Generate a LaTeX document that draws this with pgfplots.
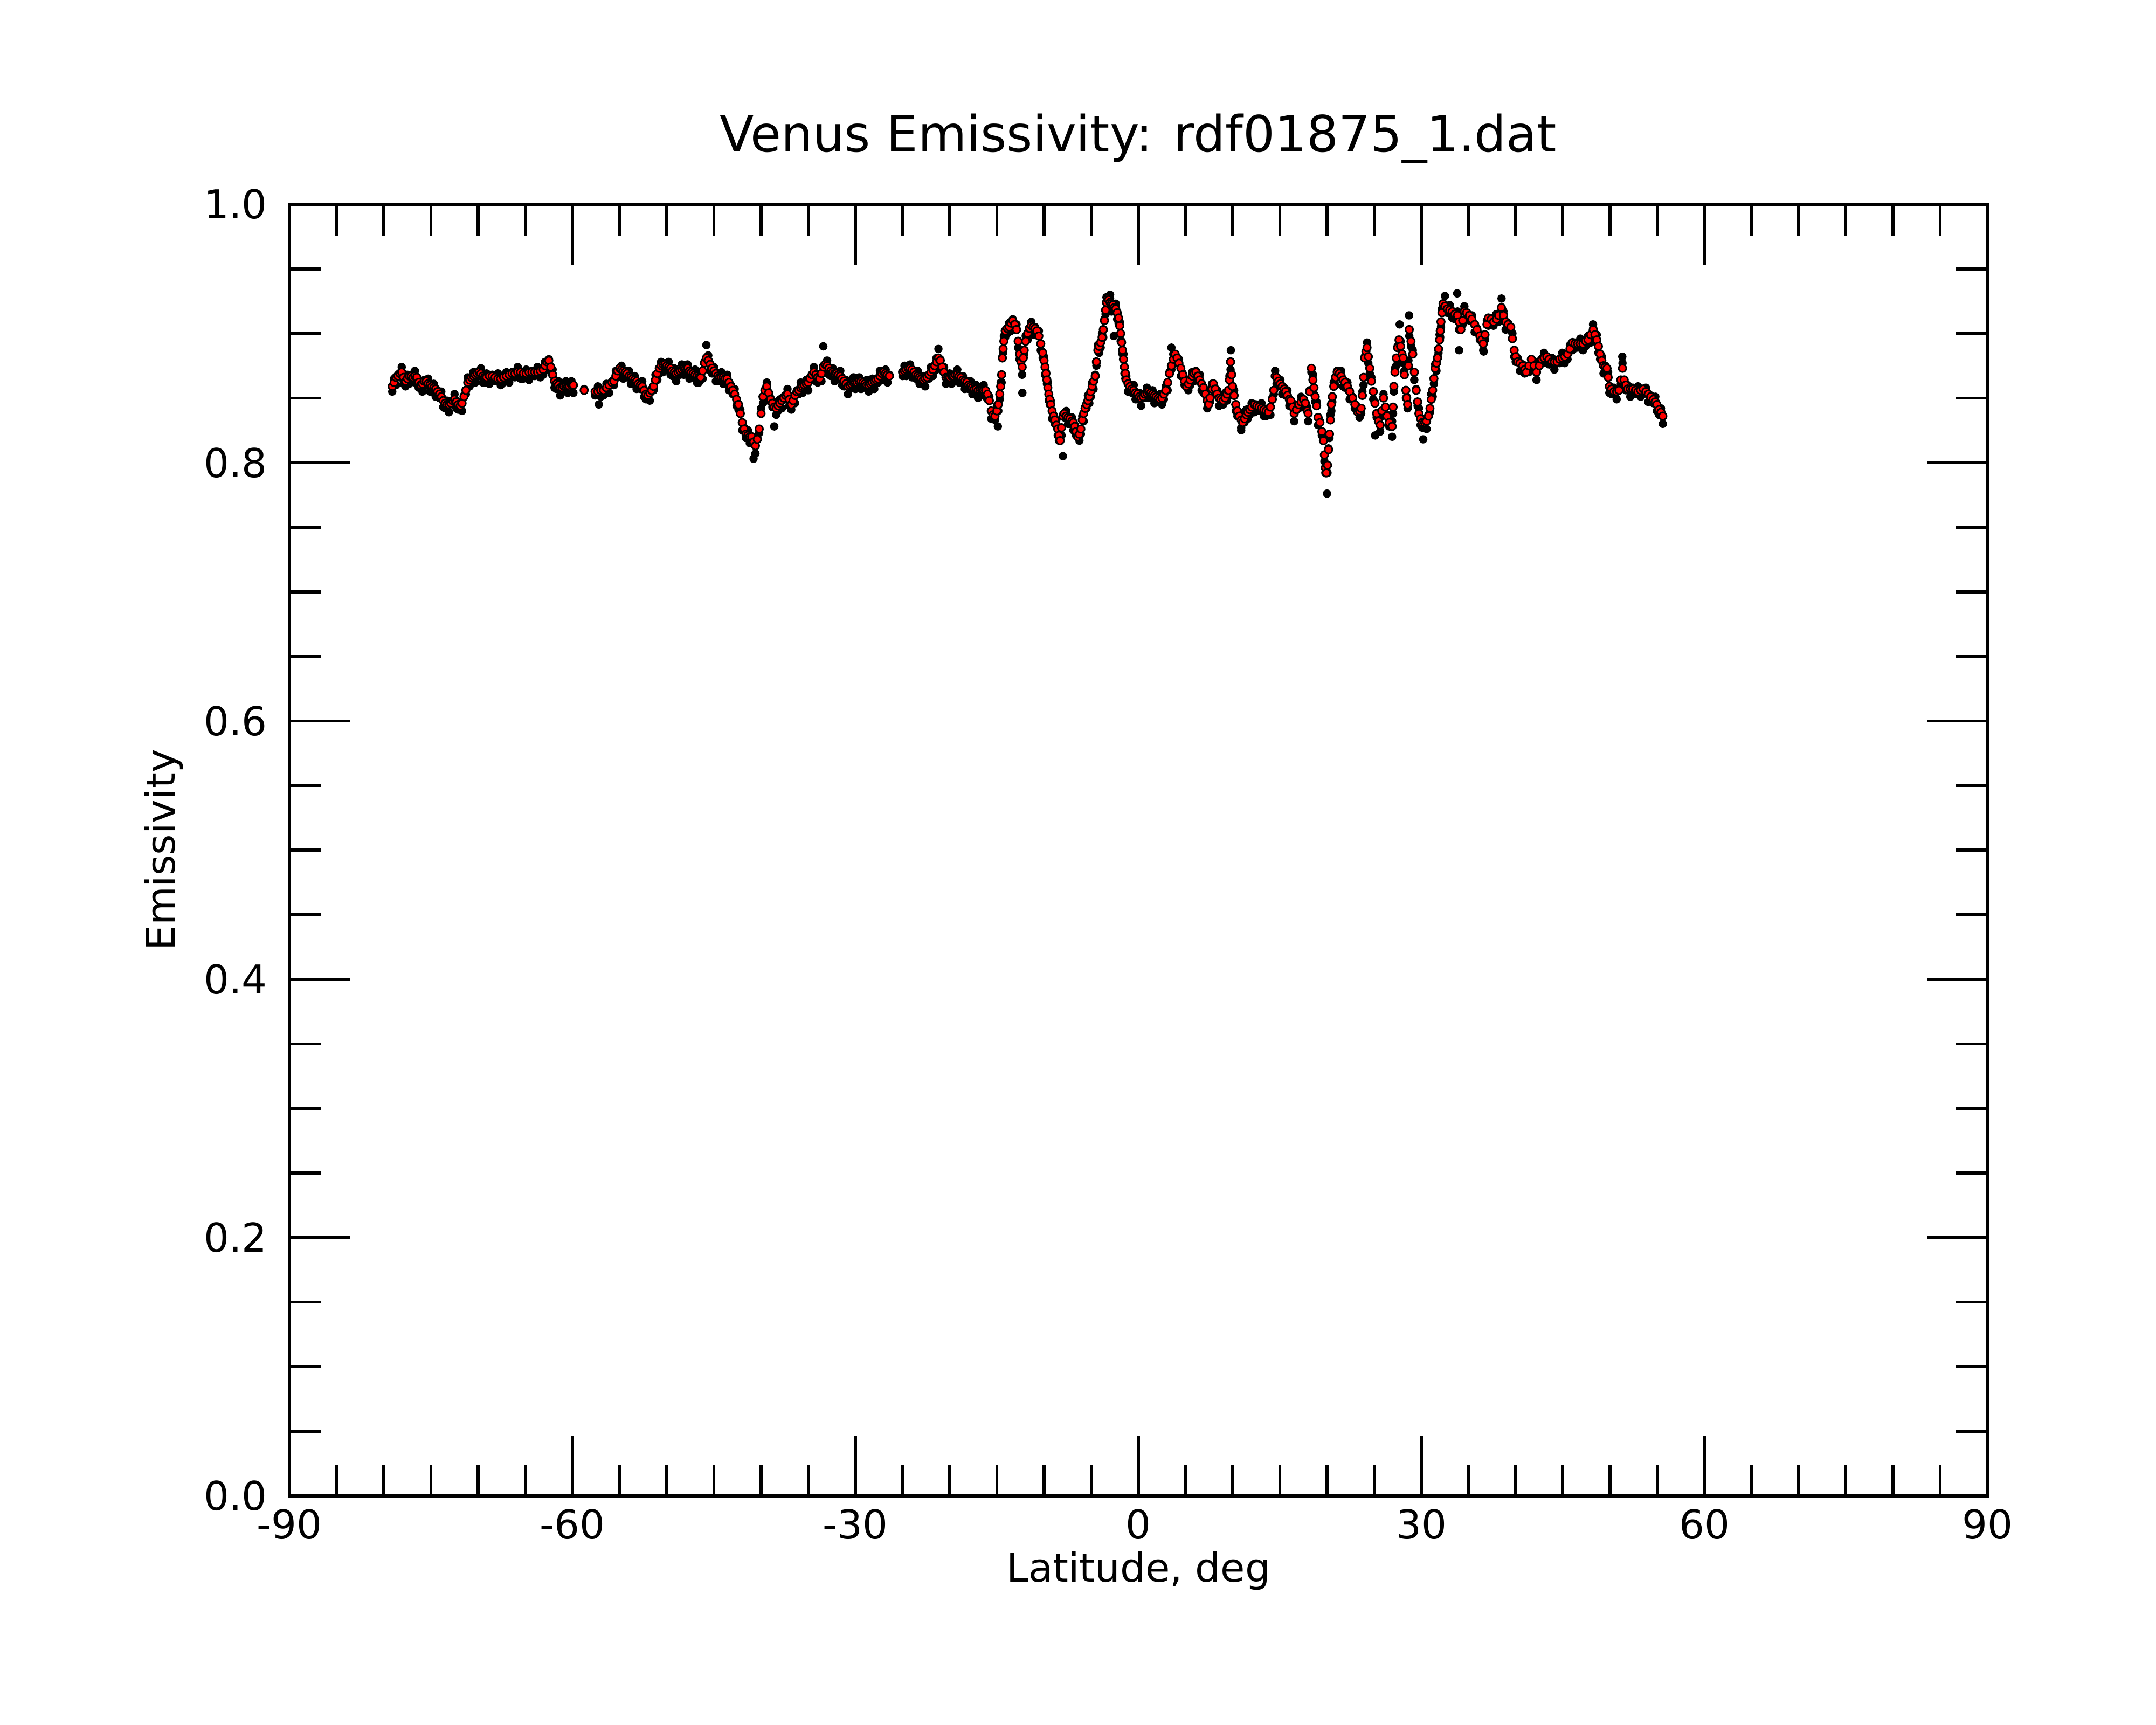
\documentclass[border=0pt]{standalone}
\usepackage{fontspec}
\setmainfont{DejaVu Sans}
\usepackage{pgfplots}
\usepackage{pgfplotstable}
\pgfplotsset{compat=1.18}
\pgfplotstableread{
lat sm raw
-79.10 0.859 0.855
-78.90 0.862 0.865
-78.70 0.866 0.860
-78.50 0.867 0.868
-78.30 0.869 0.866
-78.10 0.870 0.874
-77.90 0.866 0.861
-77.70 0.863 0.859
-77.50 0.865 0.868
-77.30 0.867 0.861
-77.10 0.867 0.868
-76.90 0.866 0.863
-76.70 0.867 0.871
-76.50 0.866 0.861
-76.30 0.862 0.858
-76.10 0.860 0.863
-75.90 0.861 0.855
-75.70 0.863 0.864
-75.50 0.863 0.860
-75.30 0.861 0.865
-75.10 0.860 0.855
-74.90 0.859 0.855
-74.70 0.858 0.861
-74.50 0.857 0.851
-74.30 0.855 0.856
-74.10 0.853 0.850
-73.90 0.851 0.855
-73.70 0.848 0.843
-73.50 0.846 0.842
-73.30 0.845 0.848
-73.10 0.845 0.839
-72.90 0.846 0.847
-72.70 0.848 0.845
-72.50 0.849 0.853
-72.30 0.847 0.842
-72.10 0.845 0.841
-71.90 0.844 0.847
-71.70 0.846 0.840
-71.50 0.851 0.852
-71.30 0.856 0.853
-71.10 0.862 0.866
-70.90 0.864 0.859
-70.70 0.866 0.862
-70.50 0.867 0.870
-70.30 0.868 0.862
-70.10 0.869 0.870
-69.90 0.870 0.867
-69.70 0.869 0.873
-69.50 0.867 0.862
-69.30 0.866 0.862
-69.10 0.866 0.869
-68.80 0.867 0.861
-68.50 0.867 0.868
-68.20 0.866 0.863
-67.90 0.865 0.869
-67.60 0.865 0.860
-67.30 0.866 0.862
-67.00 0.867 0.870
-66.70 0.868 0.862
-66.40 0.869 0.870
-66.10 0.869 0.866
-65.80 0.870 0.874
-65.50 0.870 0.865
-65.20 0.869 0.865
-64.90 0.869 0.872
-64.60 0.870 0.864
-64.30 0.870 0.871
-64.00 0.870 0.867
-63.70 0.870 0.874
-63.40 0.871 0.866
-63.10 0.872 0.868
-62.90 0.875 0.878
-62.70 0.878 0.872
-62.50 0.879 0.880
-62.30 0.874 0.871
-62.10 0.868 0.872
-61.90 0.863 0.858
-61.70 0.861 0.857
-61.50 0.860 0.863
-61.30 0.858 0.852
-61.10 0.858 0.859
-60.90 0.859 0.856
-60.70 0.859 0.863
-60.50 0.859 0.854
-60.30 0.859 0.855
-60.10 0.860 0.863
-59.90 0.860 0.854
-58.76 0.856 0.857
-57.60 0.855 0.852
-57.30 0.855 0.859
-57.00 0.856 0.851
-56.70 0.856 0.852
-56.40 0.858 0.861
-56.10 0.860 0.854
-55.80 0.862 0.863
-55.60 0.863 0.860
-55.40 0.867 0.871
-55.20 0.871 0.866
-55.00 0.873 0.869
-54.80 0.872 0.875
-54.60 0.871 0.865
-54.40 0.870 0.871
-54.20 0.869 0.866
-54.00 0.867 0.871
-53.80 0.866 0.861
-53.60 0.865 0.861
-53.40 0.864 0.867
-53.20 0.863 0.857
-53.00 0.861 0.862
-52.80 0.860 0.857
-52.60 0.859 0.863
-52.40 0.856 0.851
-52.20 0.853 0.849
-52.00 0.852 0.855
-51.80 0.854 0.848
-51.60 0.856 0.857
-51.40 0.859 0.856
-51.20 0.864 0.868
-51.00 0.869 0.864
-50.80 0.873 0.869
-50.60 0.875 0.878
-50.40 0.876 0.870
-50.20 0.876 0.877
-50.00 0.875 0.872
-49.80 0.874 0.878
-49.60 0.873 0.868
-49.40 0.871 0.867
-49.20 0.870 0.873
-49.00 0.869 0.863
-48.80 0.870 0.871
-48.60 0.871 0.868
-48.40 0.872 0.876
-48.20 0.873 0.868
-48.00 0.873 0.869
-47.80 0.873 0.876
-47.60 0.871 0.865
-47.40 0.870 0.871
-47.20 0.869 0.866
-47.00 0.868 0.872
-46.80 0.867 0.862
-46.60 0.866 0.862
-46.40 0.866 0.869
-46.20 0.871 0.865
-46.00 0.877 0.878
-45.80 0.881 0.878
-45.60 0.879 0.883
-45.40 0.876 0.871
-45.20 0.873 0.869
-45.00 0.871 0.874
-44.80 0.869 0.863
-44.60 0.867 0.868
-44.40 0.866 0.863
-44.20 0.866 0.870
-44.00 0.866 0.861
-43.80 0.865 0.861
-43.60 0.865 0.868
-43.40 0.862 0.856
-43.20 0.859 0.860
-43.00 0.856 0.853
-42.80 0.853 0.857
-42.60 0.849 0.844
-42.40 0.845 0.841
-42.20 0.838 0.841
-42.00 0.831 0.825
-41.80 0.826 0.827
-41.60 0.822 0.819
-41.40 0.821 0.825
-41.20 0.820 0.815
-41.00 0.820 0.816
-40.80 0.816 0.819
-40.60 0.813 0.807
-40.40 0.818 0.819
-40.20 0.826 0.823
-40.00 0.838 0.842
-39.80 0.851 0.846
-39.60 0.856 0.852
-39.40 0.859 0.862
-39.20 0.854 0.848
-39.00 0.849 0.850
-38.80 0.846 0.843
-38.60 0.843 0.847
-38.40 0.842 0.837
-38.20 0.844 0.840
-38.00 0.846 0.849
-37.80 0.848 0.842
-37.60 0.850 0.851
-37.40 0.852 0.849
-37.20 0.853 0.857
-37.00 0.849 0.844
-36.80 0.845 0.841
-36.60 0.848 0.851
-36.40 0.852 0.846
-36.20 0.855 0.856
-36.00 0.856 0.853
-35.80 0.858 0.862
-35.60 0.859 0.854
-35.40 0.860 0.856
-35.20 0.861 0.864
-35.00 0.862 0.856
-34.80 0.865 0.866
-34.60 0.868 0.865
-34.40 0.870 0.874
-34.20 0.868 0.863
-34.00 0.866 0.862
-33.80 0.865 0.868
-33.60 0.869 0.863
-33.40 0.874 0.875
-33.20 0.876 0.873
-33.00 0.875 0.879
-32.80 0.873 0.868
-32.60 0.871 0.867
-32.40 0.870 0.873
-32.20 0.869 0.863
-32.00 0.869 0.870
-31.80 0.868 0.865
-31.60 0.867 0.871
-31.40 0.865 0.860
-31.20 0.863 0.859
-31.00 0.861 0.864
-30.80 0.859 0.853
-30.60 0.860 0.861
-30.40 0.861 0.858
-30.20 0.862 0.866
-30.00 0.862 0.857
-29.80 0.862 0.858
-29.60 0.863 0.866
-29.40 0.863 0.857
-29.20 0.862 0.863
-29.00 0.861 0.858
-28.80 0.860 0.864
-28.60 0.860 0.855
-28.40 0.861 0.857
-28.20 0.862 0.865
-28.00 0.863 0.857
-27.80 0.864 0.865
-27.60 0.865 0.862
-27.40 0.867 0.871
-27.20 0.869 0.864
-27.00 0.870 0.866
-26.80 0.869 0.872
-26.60 0.868 0.862
-26.40 0.867 0.868
-25.00 0.870 0.867
-24.80 0.871 0.875
-24.60 0.872 0.867
-24.40 0.873 0.869
-24.20 0.873 0.876
-24.00 0.872 0.866
-23.80 0.870 0.871
-23.60 0.868 0.865
-23.40 0.867 0.871
-23.20 0.866 0.861
-23.00 0.865 0.861
-22.80 0.864 0.867
-22.60 0.865 0.859
-22.40 0.866 0.867
-22.20 0.868 0.865
-22.00 0.870 0.874
-21.80 0.872 0.867
-21.60 0.875 0.871
-21.40 0.878 0.881
-21.20 0.881 0.875
-21.00 0.879 0.880
-20.80 0.874 0.871
-20.60 0.870 0.874
-20.40 0.866 0.861
-20.20 0.866 0.862
-20.00 0.866 0.869
-19.80 0.867 0.861
-19.60 0.867 0.868
-19.40 0.868 0.865
-19.20 0.868 0.872
-19.00 0.867 0.862
-18.80 0.866 0.862
-18.60 0.864 0.867
-18.40 0.863 0.857
-18.20 0.862 0.863
-18.00 0.860 0.857
-17.80 0.859 0.863
-17.60 0.858 0.853
-17.40 0.857 0.853
-17.20 0.857 0.860
-17.00 0.856 0.850
-16.80 0.856 0.857
-16.60 0.856 0.853
-16.40 0.856 0.860
-16.20 0.856 0.851
-16.00 0.853 0.849
-15.80 0.848 0.851
-15.60 0.840 0.834
-15.40 0.837 0.838
-15.20 0.836 0.833
-15.00 0.840 0.844
-14.85 0.845 0.840
-14.70 0.853 0.849
-14.60 0.859 0.862
-14.50 0.868 0.862
-14.42 0.881 0.882
-14.34 0.888 0.885
-14.26 0.894 0.898
-14.12 0.902 0.897
-13.90 0.904 0.900
-13.70 0.905 0.908
-13.50 0.908 0.902
-13.32 0.910 0.911
-13.10 0.907 0.904
-12.92 0.903 0.907
-12.75 0.894 0.889
-12.60 0.884 0.880
-12.45 0.878 0.881
-12.32 0.874 0.868
-12.20 0.881 0.882
-12.10 0.887 0.884
-11.95 0.894 0.898
-11.75 0.900 0.895
-11.55 0.904 0.900
-11.35 0.906 0.909
-11.15 0.905 0.899
-10.95 0.904 0.905
-10.75 0.902 0.899
-10.55 0.898 0.902
-10.35 0.892 0.887
-10.15 0.885 0.881
-10.00 0.879 0.882
-9.90 0.874 0.868
-9.80 0.869 0.870
-9.70 0.864 0.861
-9.60 0.858 0.862
-9.50 0.853 0.848
-9.40 0.849 0.845
-9.30 0.845 0.848
-9.15 0.840 0.834
-9.00 0.836 0.837
-8.85 0.833 0.830
-8.70 0.829 0.833
-8.55 0.826 0.821
-8.42 0.821 0.817
-8.30 0.817 0.820
-8.15 0.827 0.821
-8.00 0.836 0.837
-7.85 0.838 0.835
-7.65 0.836 0.840
-7.45 0.835 0.830
-7.25 0.834 0.830
-7.05 0.832 0.835
-6.90 0.831 0.825
-6.75 0.828 0.829
-6.60 0.824 0.821
-6.42 0.820 0.824
-6.25 0.822 0.817
-6.10 0.826 0.822
-5.95 0.833 0.836
-5.80 0.838 0.832
-5.65 0.842 0.843
-5.50 0.845 0.842
-5.35 0.848 0.852
-5.20 0.851 0.846
-5.05 0.855 0.851
-4.90 0.859 0.862
-4.75 0.863 0.857
-4.58 0.867 0.868
-4.45 0.878 0.875
-4.30 0.887 0.891
-4.15 0.890 0.885
-4.00 0.893 0.889
-3.85 0.897 0.900
-3.72 0.903 0.897
-3.60 0.910 0.911
-3.48 0.918 0.915
-3.38 0.924 0.928
-3.28 0.927 0.922
-3.15 0.926 0.922
-3.00 0.924 0.927
-2.85 0.923 0.917
-2.70 0.922 0.923
-2.55 0.920 0.917
-2.40 0.919 0.923
-2.25 0.916 0.911
-2.10 0.912 0.908
-1.98 0.906 0.909
-1.88 0.900 0.894
-1.78 0.893 0.894
-1.68 0.887 0.884
-1.58 0.880 0.884
-1.48 0.874 0.869
-1.38 0.869 0.865
-1.28 0.864 0.867
-1.10 0.861 0.855
-0.90 0.859 0.860
-0.70 0.857 0.854
-0.50 0.856 0.860
-0.30 0.854 0.849
-0.10 0.853 0.849
0.10 0.851 0.854
0.30 0.850 0.844
0.50 0.851 0.852
0.70 0.853 0.850
0.90 0.854 0.858
1.10 0.855 0.850
1.30 0.854 0.850
1.50 0.853 0.856
1.70 0.852 0.846
1.90 0.851 0.852
2.10 0.850 0.847
2.30 0.849 0.853
2.50 0.850 0.845
2.70 0.853 0.849
2.90 0.856 0.859
3.10 0.862 0.856
3.30 0.869 0.870
3.50 0.875 0.872
3.70 0.880 0.884
3.90 0.884 0.879
4.10 0.881 0.877
4.30 0.877 0.880
4.50 0.873 0.867
4.70 0.868 0.869
4.90 0.863 0.860
5.10 0.859 0.863
5.30 0.861 0.856
5.50 0.864 0.860
5.70 0.867 0.870
5.90 0.869 0.863
6.10 0.870 0.871
6.30 0.867 0.864
6.50 0.864 0.868
6.70 0.861 0.856
6.90 0.858 0.854
7.10 0.853 0.856
7.30 0.848 0.842
7.45 0.845 0.846
7.60 0.850 0.847
7.80 0.857 0.861
7.95 0.861 0.856
8.15 0.857 0.853
8.35 0.853 0.856
8.55 0.850 0.844
8.75 0.849 0.850
9.00 0.848 0.845
9.20 0.850 0.854
9.40 0.853 0.848
9.55 0.856 0.852
9.65 0.864 0.867
9.77 0.878 0.872
9.88 0.868 0.869
9.98 0.859 0.856
10.15 0.852 0.856
10.32 0.845 0.840
10.50 0.840 0.836
10.70 0.836 0.839
10.90 0.833 0.827
11.05 0.831 0.832
11.25 0.834 0.831
11.45 0.837 0.841
11.60 0.839 0.834
11.80 0.841 0.837
12.00 0.843 0.846
12.30 0.845 0.839
12.55 0.844 0.845
12.80 0.843 0.840
13.05 0.842 0.846
13.30 0.841 0.836
13.55 0.840 0.836
13.78 0.839 0.842
14.00 0.843 0.837
14.20 0.849 0.850
14.35 0.856 0.853
14.50 0.867 0.871
14.65 0.866 0.861
14.85 0.863 0.859
15.05 0.861 0.864
15.25 0.859 0.853
15.45 0.857 0.858
15.60 0.855 0.852
15.80 0.852 0.856
16.00 0.849 0.844
16.15 0.848 0.844
16.35 0.843 0.846
16.52 0.838 0.832
16.75 0.841 0.842
17.00 0.845 0.842
17.25 0.847 0.851
17.50 0.849 0.844
17.70 0.846 0.842
17.90 0.840 0.843
18.00 0.838 0.832
18.15 0.855 0.856
18.34 0.873 0.870
18.50 0.864 0.868
18.62 0.858 0.853
18.75 0.851 0.847
18.90 0.844 0.847
19.05 0.835 0.829
19.25 0.831 0.832
19.45 0.824 0.821
19.62 0.817 0.821
19.72 0.806 0.801
19.82 0.796 0.792
19.92 0.792 0.795
20.05 0.798 0.792
20.16 0.810 0.811
20.26 0.822 0.819
20.36 0.833 0.837
20.46 0.845 0.840
20.56 0.851 0.847
20.71 0.859 0.862
20.90 0.866 0.860
21.07 0.870 0.871
21.30 0.869 0.866
21.50 0.867 0.871
21.70 0.864 0.859
21.90 0.862 0.858
22.16 0.859 0.862
22.40 0.855 0.849
22.71 0.850 0.851
22.95 0.845 0.842
23.26 0.839 0.843
23.45 0.840 0.835
23.62 0.842 0.838
23.75 0.852 0.855
23.87 0.866 0.860
23.99 0.881 0.882
24.12 0.886 0.883
24.24 0.889 0.893
24.38 0.882 0.877
24.53 0.873 0.869
24.70 0.863 0.866
24.90 0.855 0.849
25.08 0.846 0.847
25.26 0.838 0.835
25.45 0.832 0.836
25.63 0.829 0.824
25.80 0.840 0.836
25.99 0.850 0.853
26.18 0.843 0.837
26.36 0.836 0.837
26.60 0.831 0.828
26.90 0.828 0.832
27.00 0.843 0.838
27.08 0.859 0.855
27.20 0.870 0.873
27.34 0.881 0.875
27.48 0.889 0.890
27.63 0.895 0.892
27.80 0.890 0.894
27.95 0.884 0.879
28.07 0.881 0.877
28.20 0.868 0.871
28.36 0.856 0.850
28.45 0.850 0.851
28.54 0.845 0.842
28.63 0.875 0.879
28.72 0.903 0.898
28.90 0.894 0.890
29.09 0.884 0.887
29.25 0.870 0.864
29.45 0.856 0.857
29.60 0.847 0.844
29.74 0.838 0.842
29.92 0.834 0.829
30.11 0.831 0.827
30.35 0.831 0.834
30.55 0.832 0.826
30.75 0.836 0.837
30.91 0.842 0.839
31.05 0.849 0.853
31.20 0.856 0.851
31.33 0.865 0.861
31.46 0.873 0.876
31.60 0.877 0.871
31.71 0.881 0.882
31.82 0.888 0.885
31.93 0.895 0.899
32.00 0.902 0.897
32.08 0.909 0.905
32.18 0.916 0.919
32.30 0.923 0.917
32.50 0.921 0.922
32.73 0.919 0.916
33.00 0.918 0.922
33.28 0.917 0.912
33.55 0.915 0.911
33.83 0.914 0.917
34.00 0.909 0.903
34.19 0.903 0.904
34.38 0.910 0.907
34.56 0.917 0.921
34.80 0.916 0.911
35.10 0.914 0.910
35.35 0.911 0.914
35.65 0.907 0.901
35.90 0.903 0.904
36.20 0.898 0.895
36.40 0.895 0.899
36.56 0.892 0.887
36.75 0.899 0.895
36.95 0.907 0.910
37.11 0.912 0.906
37.40 0.911 0.912
37.65 0.909 0.906
37.95 0.911 0.915
38.20 0.914 0.909
38.49 0.920 0.916
38.70 0.914 0.917
38.93 0.909 0.903
39.20 0.907 0.908
39.48 0.905 0.902
39.65 0.896 0.900
39.84 0.887 0.882
40.00 0.882 0.878
40.20 0.878 0.881
40.45 0.877 0.871
40.75 0.875 0.876
40.95 0.872 0.869
41.12 0.870 0.874
41.40 0.875 0.870
41.66 0.880 0.876
41.95 0.875 0.878
42.21 0.870 0.864
42.50 0.875 0.876
42.75 0.880 0.877
43.00 0.881 0.885
43.30 0.882 0.877
43.55 0.880 0.876
43.85 0.878 0.881
44.10 0.878 0.872
44.39 0.878 0.879
44.65 0.880 0.877
44.94 0.881 0.885
45.20 0.882 0.877
45.49 0.884 0.880
45.75 0.888 0.891
46.03 0.893 0.887
46.30 0.892 0.893
46.58 0.892 0.889
46.85 0.892 0.896
47.13 0.892 0.887
47.40 0.894 0.890
47.67 0.895 0.898
47.95 0.899 0.893
48.22 0.903 0.904
48.40 0.899 0.896
48.59 0.895 0.899
48.77 0.890 0.885
48.95 0.884 0.880
49.13 0.879 0.882
49.31 0.875 0.869
49.50 0.874 0.875
49.68 0.873 0.870
49.80 0.866 0.870
49.93 0.859 0.854
50.15 0.857 0.853
50.41 0.855 0.858
50.70 0.855 0.849
50.95 0.856 0.857
51.15 0.864 0.861
51.32 0.873 0.877
51.50 0.864 0.859
51.68 0.860 0.856
51.87 0.857 0.860
52.15 0.857 0.851
52.41 0.857 0.858
52.70 0.856 0.853
52.96 0.855 0.859
53.25 0.856 0.851
53.51 0.857 0.853
53.80 0.855 0.858
54.05 0.853 0.847
54.30 0.851 0.852
54.60 0.849 0.846
54.80 0.847 0.851
54.96 0.845 0.840
55.20 0.841 0.837
55.40 0.839 0.842
55.60 0.836 0.830
}\emis
\pgfplotstableread{
lat raw
-57.20 0.845
-45.80 0.891
-40.80 0.803
-38.60 0.828
-33.40 0.890
-21.20 0.888
-14.90 0.828
-12.30 0.854
-8.00 0.805
-3.00 0.930
-2.60 0.898
3.50 0.889
9.80 0.887
10.90 0.825
20.00 0.776
25.10 0.821
26.90 0.820
27.70 0.907
28.70 0.914
30.20 0.818
32.50 0.929
33.80 0.931
34.00 0.887
36.60 0.886
38.50 0.927
48.20 0.907
51.30 0.882
}\outl
\begin{document}
\begin{tikzpicture}
\useasboundingbox (0,0) rectangle (20cm,16cm);
\begin{axis}[
  at={(2.685cm,2.125cm)}, anchor=south west,
  scale only axis, width=15.75cm, height=11.98cm,
  xmin=-90, xmax=90, ymin=0, ymax=1,
  xtick={-90,-60,-30,0,30,60,90},
  xticklabels={-90,-60,-30,0,30,60,90},
  minor xtick={-85,-80,-75,-70,-65,-55,-50,-45,-40,-35,-25,-20,-15,-10,-5,5,10,15,20,25,35,40,45,50,55,65,70,75,80,85},
  ytick={0,0.2,0.4,0.6,0.8,1.0},
  yticklabels={0.0,0.2,0.4,0.6,0.8,1.0},
  minor ytick={0.05,0.1,0.15,0.25,0.3,0.35,0.45,0.5,0.55,0.65,0.7,0.75,0.85,0.9,0.95},
  tick align=inside,
  xtick pos=both, ytick pos=both,
  xticklabel pos=lower, yticklabel pos=left,
  major tick length=0.56cm, minor tick length=0.29cm,
  tick style={black, line width=0.8pt},
  axis line style={line width=0.8pt},
  xticklabel style={font=\fontsize{10.5}{12}\selectfont, inner sep=0pt, anchor=north, yshift=-0.115cm},
  yticklabel style={font=\fontsize{10.5}{12}\selectfont, inner sep=0pt, anchor=east, xshift=-0.2cm},
  title={Venus Emissivity: rdf01875\_1.dat},
  title style={font=\fontsize{13.2}{15}\selectfont, at={(axis description cs:0.5,1.0405)}, anchor=base, yshift=-6pt},
  xlabel={Latitude, deg},
  xlabel style={font=\fontsize{10.5}{12}\selectfont, at={(axis description cs:0.5,-0.0664)}, anchor=base},
  ylabel={Emissivity},
  ylabel style={font=\fontsize{10.5}{12}\selectfont, at={(axis description cs:-0.0673,0.5)}, anchor=base},
]
\addplot[only marks, mark=*, mark size=0.9pt, mark options={draw=none, fill=black}] table[x=lat, y=raw] {\emis};
\addplot[only marks, mark=*, mark size=0.9pt, mark options={draw=none, fill=black}] table[x=lat, y=raw] {\outl};
\addplot[only marks, mark=*, mark size=1.0pt, mark options={draw=none, fill=red}] table[x=lat, y=sm] {\emis};
\end{axis}
\end{tikzpicture}
\end{document}
